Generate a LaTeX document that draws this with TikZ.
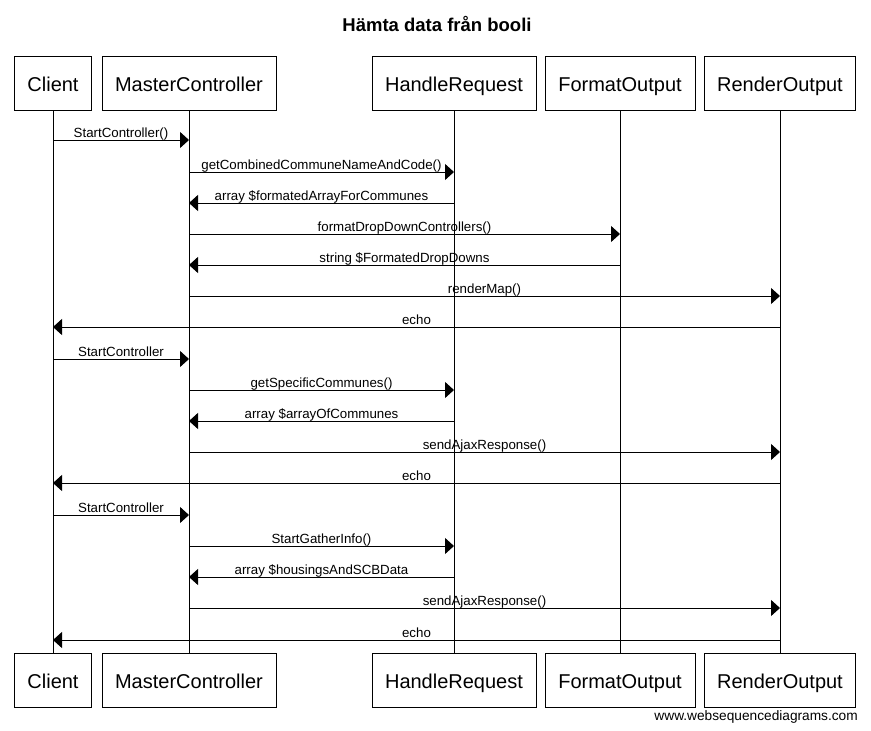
\documentclass[tikz,border=0pt]{standalone}
\usepackage{fontspec}
\setmainfont{Liberation Sans}
\usetikzlibrary{arrows.meta}
\newcommand\mymsg[4]{\draw[msg] (#1 |- 0,#3) -- node[lbl]{#4} (#2 |- 0,#3);}
\begin{document}
\begin{tikzpicture}[x=1pt,y=-1pt,
  actor/.style={draw, line width=1pt, inner sep=0pt, minimum height=54pt,
    text height=18pt, text depth=2pt, font=\fontsize{20}{24}\selectfont},
  life/.style={line width=1pt},
  msg/.style={line width=1pt, -{Triangle[length=9pt,width=16pt]}},
  lbl/.style={midway, anchor=base, yshift=2.5pt, inner sep=0pt, font=\fontsize{13.3}{16}\selectfont}]
\useasboundingbox[fill=white] (0,0) rectangle (871,731);

\node[anchor=base, font=\bfseries\fontsize{18.5}{22}\selectfont] (title) at (437,31.5) {Hämta data från booli};

% top actors
\node[actor, minimum width=77pt]  (cl) at (53,83)  {Client};
\node[actor, minimum width=174pt] (mc) at (189,83) {MasterController};
\node[actor, minimum width=164pt] (hr) at (454,83) {HandleRequest};
\node[actor, minimum width=150pt] (fo) at (620,83) {FormatOutput};
\node[actor, minimum width=151pt] (ro) at (780,83) {RenderOutput};
% bottom actors
\node[actor, minimum width=77pt]  (clb) at (53,680)  {Client};
\node[actor, minimum width=174pt] (mcb) at (189,680) {MasterController};
\node[actor, minimum width=164pt] (hrb) at (454,680) {HandleRequest};
\node[actor, minimum width=150pt] (fob) at (620,680) {FormatOutput};
\node[actor, minimum width=151pt] (rob) at (780,680) {RenderOutput};

% lifelines
\draw[life] (cl.south) -- (clb.north);
\draw[life] (mc.south) -- (mcb.north);
\draw[life] (hr.south) -- (hrb.north);
\draw[life] (fo.south) -- (fob.north);
\draw[life] (ro.south) -- (rob.north);

% messages
\mymsg{cl}{mc}{140}{StartController()}
\mymsg{mc}{hr}{172}{getCombinedCommuneNameAndCode()}
\mymsg{hr}{mc}{203}{array \$formatedArrayForCommunes}
\mymsg{mc}{fo}{234}{formatDropDownControllers()}
\mymsg{fo}{mc}{265}{string \$FormatedDropDowns}
\mymsg{mc}{ro}{296}{renderMap()}
\mymsg{ro}{cl}{327}{echo}
\mymsg{cl}{mc}{359}{StartController}
\mymsg{mc}{hr}{390}{getSpecificCommunes()}
\mymsg{hr}{mc}{421}{array \$arrayOfCommunes}
\mymsg{mc}{ro}{452}{sendAjaxResponse()}
\mymsg{ro}{cl}{483}{echo}
\mymsg{cl}{mc}{515}{StartController}
\mymsg{mc}{hr}{546}{StartGatherInfo()}
\mymsg{hr}{mc}{577}{array \$housingsAndSCBData}
\mymsg{mc}{ro}{608}{sendAjaxResponse()}
\mymsg{ro}{cl}{640}{echo}

\node[anchor=base east, inner sep=0pt, font=\fontsize{13.7}{16}\selectfont] (wm) at (858,720) {www.websequencediagrams.com};
\end{tikzpicture}
\end{document}
